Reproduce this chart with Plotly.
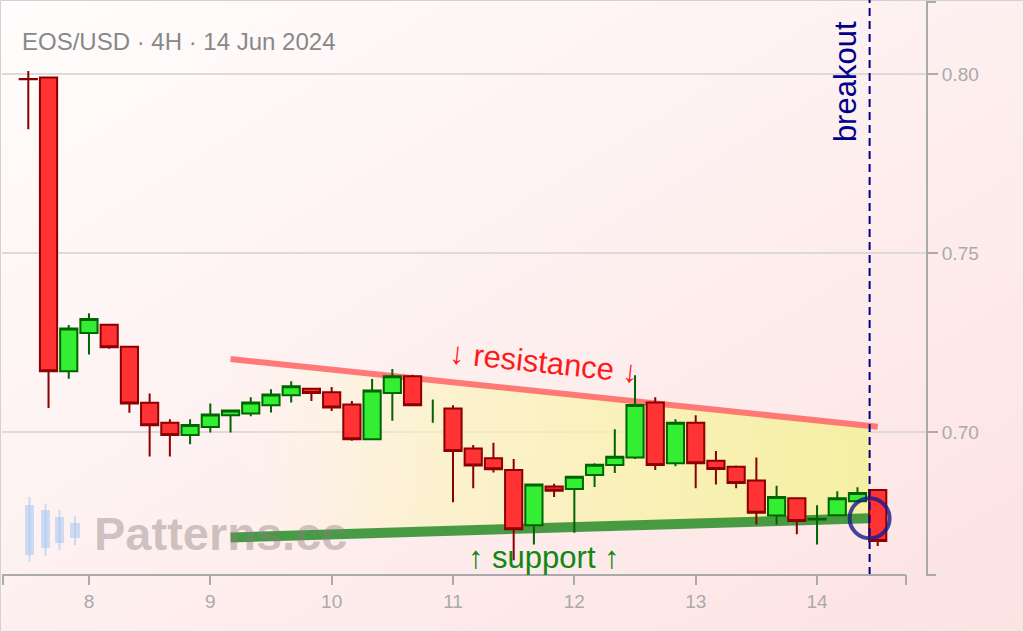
import base64

import numpy as np
import pandas as pd
import plotly.graph_objects as go

# EOS/USD 4H candles, Jun 7 12:00 -> Jun 14 12:00
times = pd.date_range("2024-06-07 12:00", periods=43, freq="4h")

opens = [0.7986, 0.7990, 0.7170, 0.7277, 0.7300, 0.7238, 0.7082, 0.7026, 0.6992, 0.7014,
         0.7047, 0.7052, 0.7075, 0.7103, 0.7121, 0.7111, 0.7077, 0.6980, 0.7109, 0.7156,
         None, 0.7066, 0.6954, 0.6927, 0.6894, 0.6740, 0.6848, 0.6841, 0.6880, 0.6908,
         0.6929, 0.7083, 0.6913, 0.7026, 0.6920, 0.6903, 0.6865, 0.6767, 0.6815, 0.6756,
         0.6768, 0.6807, 0.6838]
highs = [0.8008, 0.7993, 0.7299, 0.7332, 0.7300, 0.7238, 0.7108, 0.7036, 0.7036, 0.7080,
         0.7063, 0.7097, 0.7120, 0.7142, 0.7122, 0.7126, 0.7087, 0.7148, 0.7176, 0.7160,
         0.7091, 0.7075, 0.6964, 0.6970, 0.6925, 0.6856, 0.6856, 0.6875, 0.6913, 0.7008,
         0.7159, 0.7097, 0.7036, 0.7047, 0.6947, 0.6907, 0.6929, 0.6850, 0.6816, 0.6796,
         0.6835, 0.6846, 0.6841]
lows = [0.7846, 0.7067, 0.7149, 0.7217, 0.7233, 0.7054, 0.6932, 0.6932, 0.6966, 0.6999,
        0.6999, 0.7044, 0.7055, 0.7083, 0.7087, 0.7059, 0.6976, 0.6980, 0.7032, 0.7075,
        0.7026, 0.6804, 0.6843, 0.6887, 0.6642, 0.6686, 0.6819, 0.6719, 0.6847, 0.6886,
        0.6925, 0.6894, 0.6905, 0.6843, 0.6854, 0.6843, 0.6742, 0.6742, 0.6715, 0.6686,
        0.6768, 0.6807, 0.6682]
closes = [0.7985, 0.7170, 0.7289, 0.7316, 0.7237, 0.7080, 0.7019, 0.6992, 0.7020, 0.7049,
          0.7060, 0.7083, 0.7105, 0.7128, 0.7109, 0.7069, 0.6980, 0.7116, 0.7156, 0.7075,
          None, 0.6947, 0.6907, 0.6896, 0.6729, 0.6854, 0.6836, 0.6875, 0.6909, 0.6931,
          0.7076, 0.6908, 0.7026, 0.6913, 0.6897, 0.6858, 0.6775, 0.6819, 0.6752, 0.6758,
          0.6815, 0.6830, 0.6696]

# trend lines (start, end)
line_times = ["2024-06-09 04:00", "2024-06-14 12:00"]
resistance = [0.7204, 0.7015]
support = [0.6706, 0.6760]
breakout_time = "2024-06-14 10:24"

W, H = 1024, 632
L, R, T, B = 2, 98, 2, 57
PW, PH = W - L - R, H - T - B


def px(x):
    return (x - L) / PW


def py(y):
    return (H - B - y) / PH


FONT = "Liberation Sans, Arial, sans-serif"

# trend values at the breakout
tnum = [pd.Timestamp(t).value for t in line_times]
bnum = pd.Timestamp(breakout_time).value
res_b = float(np.interp(bnum, tnum, resistance))
sup_b = float(np.interp(bnum, tnum, support))

fig = go.Figure()

# yellow wedge fill (base axes, under the candles)
fig.add_trace(go.Scatter(
    x=[line_times[0], breakout_time, breakout_time, line_times[0], line_times[0]],
    y=[resistance[0], res_b, sup_b, support[0], resistance[0]],
    mode="none", fill="toself",
    fillgradient=dict(type="horizontal",
                      colorscale=[[0, "rgba(255,250,215,0)"], [0.3, "rgba(250,245,185,0.55)"],
                                  [0.65, "rgba(248,242,170,0.8)"], [1, "rgba(245,240,160,0.95)"]]),
    hoverinfo="skip", showlegend=False))

fig.add_trace(go.Scatter(x=line_times, y=resistance, mode="lines",
                         line=dict(color="rgba(255,100,100,0.85)", width=6),
                         hoverinfo="skip", showlegend=False))
fig.add_trace(go.Scatter(x=line_times, y=support, mode="lines",
                         line=dict(color="rgba(40,140,40,0.85)", width=10),
                         hoverinfo="skip", showlegend=False))

# candles on overlaid axes so they sit above the fill
fig.add_trace(go.Candlestick(
    x=times, open=opens, high=highs, low=lows, close=closes,
    increasing=dict(fillcolor="#33ee33", line=dict(color="#006400", width=2)),
    decreasing=dict(fillcolor="#ff3333", line=dict(color="#8b0000", width=2)),
    whiskerwidth=0, showlegend=False, xaxis="x2", yaxis="y2"))

# candles with no body: wick only
for t, o, h, l in zip(times, opens, highs, lows):
    if o is None:
        fig.add_trace(go.Scatter(x=[t, t], y=[l, h], mode="lines",
                                 line=dict(color="#006400", width=2),
                                 hoverinfo="skip", showlegend=False, xaxis="x2", yaxis="y2"))

# background gradient
svg = ('<svg xmlns="http://www.w3.org/2000/svg" width="1024" height="632">'
       '<defs><linearGradient id="g" x1="0" y1="0" x2="1" y2="1">'
       '<stop offset="0" stop-color="#fffdfd"/><stop offset="1" stop-color="#fde2e2"/>'
       '</linearGradient></defs><rect width="1024" height="632" fill="url(#g)"/></svg>')
bg = "data:image/svg+xml;base64," + base64.b64encode(svg.encode()).decode()

axis_col = "#aaaaaa"
shapes = [
    # breakout circle
    dict(type="circle", xref="x", yref="y", xsizemode="pixel", ysizemode="pixel",
         xanchor=breakout_time, yanchor=sup_b, x0=-20, x1=20, y0=-20, y1=20,
         line=dict(color="rgba(25,25,140,0.8)", width=4)),
    # breakout line
    dict(type="line", xref="x", yref="paper", x0=breakout_time, x1=breakout_time, y0=0, y1=1.01,
         line=dict(color="#00008b", width=2, dash="8px,5px")),
    # x axis line with end stubs
    dict(type="line", xref="paper", yref="paper", x0=0, x1=px(906), y0=0, y1=0,
         line=dict(color=axis_col, width=2)),
    dict(type="line", xref="paper", yref="paper", x0=px(3), x1=px(3), y0=0, y1=py(585),
         line=dict(color=axis_col, width=2)),
    dict(type="line", xref="paper", yref="paper", x0=px(906), x1=px(906), y0=0, y1=py(585),
         line=dict(color=axis_col, width=2)),
    # y axis end stubs
    dict(type="line", xref="paper", yref="paper", x0=1, x1=px(936), y0=1, y1=1,
         line=dict(color=axis_col, width=2)),
    dict(type="line", xref="paper", yref="paper", x0=1, x1=px(936), y0=0, y1=0,
         line=dict(color=axis_col, width=2)),
    # figure border
    dict(type="rect", xref="paper", yref="paper", x0=px(0.5), x1=px(1023.5), y0=py(631.5), y1=py(0.5),
         line=dict(color="#d8d0d0", width=1), layer="below"),
]

# watermark logo candles
logo = [(25, 34, 505, 555, 497, 562), (41, 50, 510, 548, 504, 556),
        (55, 64, 517, 543, 510, 550), (70, 80, 523, 538, 516, 545)]
logo_col = "rgba(165,198,240,0.55)"
for x0, x1, bt, bb, wt, wb in logo:
    xm = (x0 + x1) / 2
    shapes.append(dict(type="line", xref="paper", yref="paper", x0=px(xm), x1=px(xm),
                       y0=py(wb), y1=py(wt), line=dict(color=logo_col, width=2), layer="below"))
    shapes.append(dict(type="rect", xref="paper", yref="paper", x0=px(x0), x1=px(x1),
                       y0=py(bb), y1=py(bt), fillcolor=logo_col, line=dict(width=0), layer="below"))

annotations = [
    dict(text="EOS/USD · 4H · 14 Jun 2024", xref="paper", yref="paper", x=px(20), y=py(41),
         xanchor="left", yanchor="middle", showarrow=False,
         font=dict(family=FONT, size=24, color="#888888")),
    dict(text="<b>Patterns.cc</b>", xref="paper", yref="paper", x=px(92), y=py(533),
         xanchor="left", yanchor="middle", showarrow=False,
         font=dict(family=FONT, size=47, color="rgba(140,125,125,0.42)")),
    dict(text="breakout", xref="x", yref="paper", x=breakout_time, y=py(82),
         xanchor="right", yanchor="middle", xshift=-5, textangle=-90, showarrow=False,
         font=dict(family=FONT, size=31, color="#00008b")),
    dict(text="↓ resistance ↓", xref="x", yref="y", x="2024-06-11 18:00", y=0.7195,
         textangle=6, showarrow=False,
         font=dict(family=FONT, size=31, color="#ff1a1a")),
    dict(text="↑ support ↑", xref="x", yref="y", x="2024-06-11 18:00", y=0.6651,
         showarrow=False, font=dict(family=FONT, size=31, color="#118811")),
]

x_range = ["2024-06-07 06:48", "2024-06-14 21:33"]
y_range = [0.6601, 0.8201]
tick_font = dict(family=FONT, size=19, color="#aaaaaa")

fig.update_layout(
    width=W, height=H,
    margin=dict(l=L, r=R, t=T, b=B, autoexpand=False),
    paper_bgcolor="#fdeeee", plot_bgcolor="rgba(0,0,0,0)",
    boxgap=0.15, boxgroupgap=0,
    images=[dict(source=bg, xref="paper", yref="paper", x=-L / PW, y=1 + T / PH,
                 sizex=W / PW, sizey=H / PH, xanchor="left", yanchor="top",
                 sizing="stretch", layer="below")],
    shapes=shapes, annotations=annotations,
    font=dict(family=FONT),
    xaxis=dict(range=x_range, type="date", rangeslider=dict(visible=False),
               showgrid=False, zeroline=False, showline=False,
               tick0="2024-06-08", dtick=86400000, tickformat="%-d",
               ticks="outside", ticklen=9, tickwidth=2, tickcolor=axis_col,
               tickfont=tick_font),
    yaxis=dict(range=y_range, side="right", tickvals=[0.70, 0.75, 0.80],
               tickformat=".2f", showgrid=True, gridcolor="#dedada", gridwidth=1.5,
               zeroline=False, showline=True, linecolor=axis_col, linewidth=2,
               ticks="outside", ticklen=10, tickwidth=2, tickcolor=axis_col,
               tickfont=tick_font),
    xaxis2=dict(overlaying="x", range=x_range, type="date", visible=False,
                rangeslider=dict(visible=False)),
    yaxis2=dict(overlaying="y", range=y_range, visible=False),
)

fig.write_html("out.html", config={"displayModeBar": False},
               post_script="document.body.style.margin='0px';")
